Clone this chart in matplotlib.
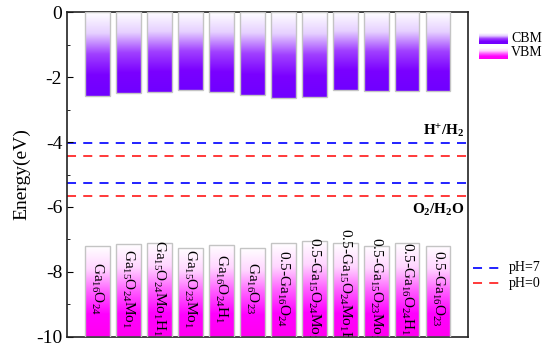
import numpy as np
import matplotlib
matplotlib.use("Agg")
import matplotlib.pyplot as plt
from matplotlib.colors import LinearSegmentedColormap

plt.rcParams['font.family'] = ['Liberation Serif', 'DejaVu Serif']
plt.rcParams['mathtext.fontset'] = 'custom'
plt.rcParams['mathtext.rm'] = 'Liberation Serif'
plt.rcParams['mathtext.it'] = 'Liberation Serif'
plt.rcParams['mathtext.bf'] = 'Liberation Serif:bold'
plt.rcParams['axes.unicode_minus'] = False

# data
labels = [r"Ga$_{16}$O$_{24}$", r"Ga$_{15}$O$_{24}$Mo$_1$", r"Ga$_{15}$O$_{24}$Mo$_1$H$_1$",
          r"Ga$_{15}$O$_{23}$Mo$_1$", r"Ga$_{16}$O$_{24}$H$_1$", r"Ga$_{16}$O$_{23}$",
          r"0.5-Ga$_{16}$O$_{24}$", r"0.5-Ga$_{15}$O$_{24}$Mo$_1$", r"0.5-Ga$_{15}$O$_{24}$Mo$_1$H$_1$",
          r"0.5-Ga$_{15}$O$_{23}$Mo$_1$", r"0.5-Ga$_{16}$O$_{24}$H$_1$", r"0.5-Ga$_{16}$O$_{23}$"]
cbm = [-2.58, -2.49, -2.47, -2.40, -2.45, -2.55, -2.64, -2.61, -2.41, -2.42, -2.44, -2.42]
vbm = [-7.20, -7.15, -7.10, -7.27, -7.16, -7.27, -7.11, -7.04, -7.12, -7.19, -7.11, -7.19]
levels_ph7 = [-4.03, -5.26]
levels_ph0 = [-4.44, -5.67]

ymin, ymax = -10, 0
width = 0.8

cbm_cmap = LinearSegmentedColormap.from_list("cbm", ["#ffffff", "#e6d0ff", "#a040ff", "#7a00ff", "#7000ff"])
vbm_cmap = LinearSegmentedColormap.from_list("vbm", ["#ffffff", "#ffd6ff", "#ff60ff", "#ff00ff", "#ff00f0"])
grad = np.linspace(0, 1, 256).reshape(-1, 1)

fig = plt.figure(figsize=(5.51, 3.49), dpi=100)
ax = fig.add_axes([0.1216, 0.0344, 0.7274, 0.9312])

x = np.arange(1, len(labels) + 1)

# CBM bars hang from 0 down to the CBM value, VBM bars from the VBM value down to -10
cb = ax.bar(x, np.array(cbm) - ymax, width, bottom=ymax, facecolor="none",
            edgecolor="#c4c4c4", linewidth=1, zorder=3)
vb = ax.bar(x, ymin - np.array(vbm), width, bottom=vbm, facecolor="none",
            edgecolor="#c4c4c4", linewidth=1, zorder=3)

for xi, c, v in zip(x, cbm, vbm):
    ax.imshow(grad, cmap=cbm_cmap, aspect="auto", origin="upper",
              extent=(xi - width / 2, xi + width / 2, c, ymax), zorder=2)
    ax.imshow(grad, cmap=vbm_cmap, aspect="auto", origin="upper",
              extent=(xi - width / 2, xi + width / 2, ymin, v), zorder=2)

for xi, lab in zip(x, labels):
    ax.text(xi, -8.5, lab, rotation=270, ha="center", va="center",
            fontsize=11, zorder=4, clip_on=True)

for lv in levels_ph7:
    ax.axhline(lv, color="#1010ff", linestyle=(0, (5, 4)), linewidth=1.3, zorder=1)
for lv in levels_ph0:
    ax.axhline(lv, color="#ff2a2a", linestyle=(0, (5, 4)), linewidth=1.3, zorder=1)

ax.text(12.85, -3.66, r"H$^{\mathbf{+}}$/H$_{\mathbf{2}}$", ha="right", va="center",
        fontsize=11, fontweight="bold")
ax.text(12.85, -6.09, r"O$_{\mathbf{2}}$/H$_{\mathbf{2}}$O", ha="right", va="center",
        fontsize=11, fontweight="bold")

ax.set_xlim(0.02, 12.96)
ax.set_ylim(ymin, ymax)
ax.set_xticks([])
ax.set_yticks([0, -2, -4, -6, -8, -10])
ax.set_yticks([-1, -3, -5, -7, -9], minor=True)
ax.tick_params(axis="y", which="both", direction="in", labelsize=14)
ax.tick_params(axis="y", which="major", length=4)
ax.tick_params(axis="y", which="minor", length=2.5)
ax.set_ylabel("Energy(eV)", fontsize=14, labelpad=4)
for sp in ax.spines.values():
    sp.set_linewidth(1.2)
    sp.set_color("#222222")

# gradient legend for the bars
for i, (cmap, name) in enumerate([(cbm_cmap, "CBM"), (vbm_cmap, "VBM")]):
    lax = fig.add_axes([479 / 551, 1 - (32 + 15 * i + 12) / 349, 29 / 551, 11 / 349])
    lax.imshow(grad, cmap=cmap, aspect="auto", origin="upper")
    lax.set_axis_off()
    fig.text(511 / 551, 1 - (38 + 15 * i) / 349, name, fontsize=10, va="center", ha="left")

# line legend
for i, (col, name) in enumerate([("#1010ff", "pH=7"), ("#ff2a2a", "pH=0")]):
    yy = 1 - (268 + 15 * i) / 349
    fig.add_artist(plt.Line2D([473 / 551, 504 / 551], [yy, yy], color=col,
                              linestyle=(0, (5, 4)), linewidth=1.3))
    fig.text(509 / 551, yy, name, fontsize=10, va="center", ha="left")

fig.savefig("out.png", dpi=100)
